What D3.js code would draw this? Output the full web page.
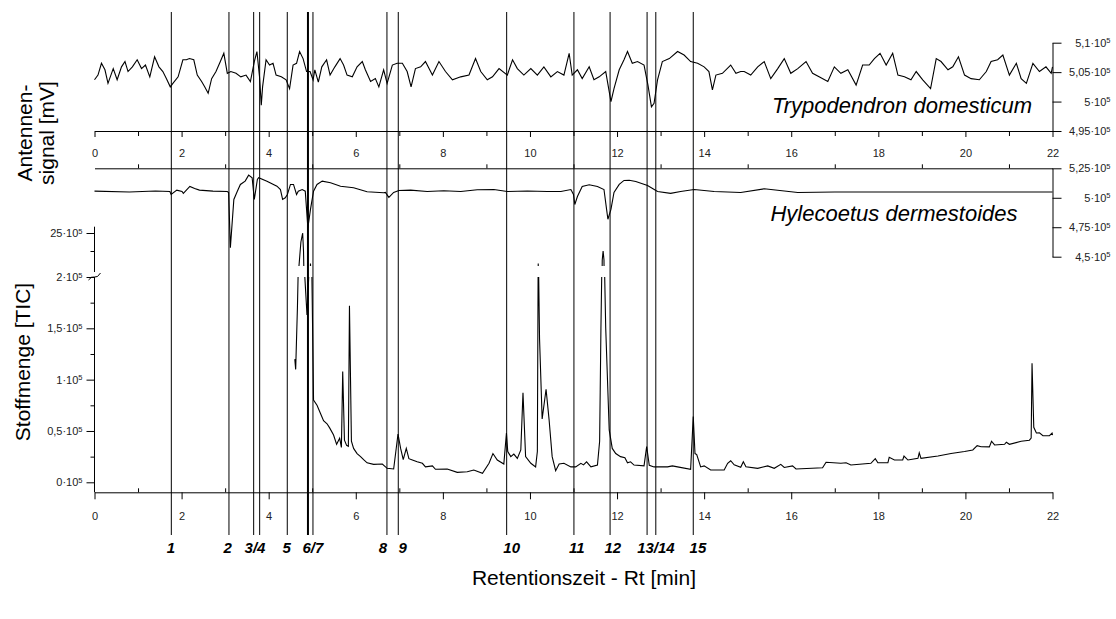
<!DOCTYPE html>
<html>
<head>
<meta charset="utf-8">
<script src="https://cdn.jsdelivr.net/npm/d3@7"></script>
<style>
  body { margin: 0; background: #fff; }
  text { font-family: "Liberation Sans", Arial, sans-serif; }
</style>
</head>
<body>
<div id="chart"></div>
<script>
// x axis (minutes)
const xMajor = [0, 2, 4, 6, 8, 10, 12, 14, 16, 18, 20, 22];
const xMinor = [1, 3, 5, 7, 9, 11, 13, 15, 17, 19, 21];

// y ticks, values in 10^5 and their printed mantissas
const eag1Ticks = [4.95, 5.0, 5.05, 5.1];
const eag1Labels = ["4,95", "5", "5,05", "5,1"];
const eag2Ticks = [4.5, 4.75, 5.0, 5.25];
const eag2Labels = ["4,5", "4,75", "5", "5,25"];
const ticLowTicks = [0, 0.5, 1, 1.5, 2];
const ticLowLabels = ["0", "0,5", "1", "1,5", "2"];
const ticLowMinor = [0.25, 0.75, 1.25, 1.75];
const ticHighTicks = [2.5];
const ticHighLabels = ["25"];
const ticHighMinor = [2.4];

// EAD markers (retention time, min)
const markerTimes = [1.764, 3.088, 3.655, 3.793, 4.427, 4.902, 5.017, 6.716, 6.976, 9.465, 11.01, 11.84, 12.69, 12.89, 13.75];
const markerNames = ["1", "2", "3", "4", "5", "6", "7", "8", "9", "10", "11", "12", "13", "14", "15"];
const markerLabels = ["1", "2", "3/4", "5", "6/7", "8", "9", "10", "11", "12", "13/14", "15"];
const markerLabelTimes = [1.754, 3.059, 3.687, 4.414, 5.017, 6.624, 7.077, 9.58, 11.077, 11.904, 12.893, 13.857];

// antenna signal, Trypodendron domesticum [time, value*10^5]
const eagTrypodendron = [
  [0.00,5.037],[0.08,5.045],[0.16,5.065],[0.24,5.054],[0.31,5.031],[0.43,5.056],[0.52,5.037],[0.62,5.059],
  [0.70,5.068],[0.77,5.051],[0.87,5.059],[0.98,5.071],[1.08,5.056],[1.17,5.062],[1.27,5.042],[1.38,5.076],
  [1.48,5.059],[1.57,5.051],[1.65,5.039],[1.74,5.025],[1.80,5.031],[1.92,5.042],[2.03,5.071],[2.11,5.071],
  [2.18,5.073],[2.28,5.071],[2.36,5.045],[2.46,5.034],[2.53,5.025],[2.61,5.014],[2.69,5.039],[2.79,5.051],
  [2.89,5.068],[2.97,5.082],[3.05,5.048],[3.13,5.051],[3.25,5.048],[3.36,5.042],[3.48,5.045],[3.58,5.034],
  [3.67,5.068],[3.73,5.085],[3.79,5.042],[3.83,4.994],[3.86,5.025],[3.94,5.071],[4.02,5.062],[4.10,5.065],
  [4.17,5.045],[4.29,5.042],[4.40,5.037],[4.48,5.022],[4.56,5.062],[4.64,5.065],[4.71,5.085],[4.79,5.073],
  [4.87,5.051],[4.95,5.051],[5.02,5.037],[5.06,5.054],[5.14,5.033],[5.22,5.059],[5.33,5.071],[5.41,5.045],
  [5.52,5.059],[5.64,5.073],[5.72,5.062],[5.80,5.045],[5.92,5.042],[6.03,5.059],[6.15,5.068],[6.22,5.054],
  [6.34,5.034],[6.45,5.039],[6.53,5.025],[6.64,5.054],[6.72,5.031],[6.84,5.062],[6.95,5.065],[7.07,5.065],
  [7.18,5.051],[7.27,5.025],[7.37,5.056],[7.49,5.059],[7.60,5.068],[7.76,5.045],[7.91,5.068],[8.06,5.051],
  [8.22,5.037],[8.41,5.042],[8.60,5.045],[8.75,5.073],[8.87,5.051],[9.02,5.037],[9.14,5.042],[9.29,5.056],
  [9.48,5.045],[9.60,5.071],[9.71,5.056],[9.86,5.045],[10.02,5.056],[10.17,5.045],[10.32,5.059],[10.48,5.042],
  [10.63,5.051],[10.78,5.045],[10.90,5.082],[10.97,5.045],[11.09,5.054],[11.20,5.039],[11.36,5.059],[11.47,5.037],
  [11.59,5.042],[11.74,5.051],[11.82,5.017],[11.86,5.000],[11.93,5.022],[12.05,5.054],[12.16,5.071],[12.24,5.085],
  [12.35,5.065],[12.47,5.068],[12.62,5.062],[12.71,5.028],[12.79,4.991],[12.85,4.997],[12.93,5.037],[13.04,5.068],
  [13.20,5.073],[13.39,5.085],[13.54,5.079],[13.69,5.068],[13.85,5.065],[14.00,5.059],[14.11,5.051],[14.19,5.020],
  [14.27,5.045],[14.42,5.048],[14.61,5.062],[14.73,5.048],[14.84,5.051],[14.92,5.051],[15.07,5.045],[15.23,5.059],
  [15.38,5.068],[15.53,5.039],[15.69,5.056],[15.84,5.073],[15.99,5.048],[16.15,5.056],[16.34,5.068],[16.49,5.048],
  [16.64,5.042],[16.84,5.034],[16.99,5.059],[17.14,5.048],[17.30,5.054],[17.49,5.028],[17.64,5.062],[17.79,5.062],
  [17.91,5.073],[18.04,5.082],[18.18,5.062],[18.33,5.082],[18.45,5.045],[18.60,5.042],[18.75,5.037],[18.87,5.051],
  [19.02,5.037],[19.20,5.022],[19.33,5.073],[19.44,5.068],[19.60,5.054],[19.71,5.059],[19.84,5.076],[19.98,5.045],
  [20.13,5.039],[20.32,5.037],[20.48,5.051],[20.59,5.068],[20.74,5.071],[20.86,5.079],[21.01,5.045],[21.17,5.065],
  [21.28,5.039],[21.40,5.031],[21.55,5.065],[21.70,5.051],[21.85,5.059],[21.97,5.048],[22.00,5.059]
];

// antenna signal, Hylecoetus dermestoides
const eagHylecoetus = [
  [0.00,5.056],[0.80,5.049],[1.40,5.058],[1.73,5.053],[1.76,5.028],[1.89,5.065],[2.01,5.053],[2.04,5.037],
  [2.19,5.096],[2.30,5.079],[2.41,5.065],[2.72,5.056],[3.05,5.053],[3.08,5.045],[3.12,4.576],[3.20,4.986],
  [3.28,5.056],[3.35,5.113],[3.46,5.141],[3.54,5.192],[3.62,5.170],[3.67,4.986],[3.74,5.155],[3.77,5.170],
  [3.96,5.141],[4.19,5.098],[4.27,5.070],[4.32,4.986],[4.38,5.000],[4.43,5.028],[4.50,5.113],[4.57,5.113],
  [4.64,5.028],[4.68,5.056],[4.77,5.070],[4.84,5.056],[4.90,4.745],[4.96,4.901],[5.03,5.056],[5.11,5.113],
  [5.23,5.141],[5.42,5.127],[5.65,5.098],[5.95,5.085],[6.26,5.051],[6.64,5.042],[6.68,5.045],[6.76,5.003],
  [6.87,5.045],[6.99,5.062],[7.26,5.065],[7.64,5.053],[8.02,5.059],[8.41,5.053],[8.79,5.068],[9.17,5.070],
  [9.48,5.053],[9.94,5.058],[10.40,5.053],[10.71,5.053],[10.94,5.070],[11.00,5.028],[11.03,4.943],[11.09,5.011],
  [11.20,5.096],[11.36,5.110],[11.55,5.096],[11.70,5.070],[11.76,4.901],[11.79,4.818],[11.86,4.901],[11.93,5.045],
  [12.05,5.113],[12.16,5.147],[12.28,5.149],[12.43,5.138],[12.70,5.104],[12.93,5.053],[13.23,5.037],[13.46,5.053],
  [13.77,5.070],[14.23,5.053],[14.84,5.045],[15.38,5.076],[16.15,5.045],[17.00,5.049],[18.00,5.049],[19.00,5.049],
  [20.00,5.049],[21.00,5.049],[22.00,5.049]
];

// total ion current
const tic = [
  [4.60,1.20],[4.62,1.10],[4.66,1.70],[4.69,2.30],[4.74,2.45],[4.78,2.50],[4.80,2.40],[4.83,2.00],[4.88,1.63],
  [4.93,2.10],[4.96,2.33],[4.99,2.10],[5.03,0.80],[5.11,0.75],[5.19,0.67],[5.26,0.60],[5.34,0.57],[5.40,0.53],
  [5.49,0.46],[5.56,0.37],[5.63,0.43],[5.67,0.34],[5.70,1.08],[5.74,0.41],[5.79,0.36],[5.83,0.35],[5.855,1.72],
  [5.90,0.40],[5.95,0.33],[6.03,0.28],[6.11,0.25],[6.18,0.22],[6.26,0.19],[6.41,0.175],[6.61,0.178],[6.72,0.136],
  [6.87,0.13],[6.97,0.47],[7.03,0.33],[7.09,0.22],[7.16,0.33],[7.22,0.23],[7.30,0.217],[7.41,0.20],[7.53,0.185],
  [7.60,0.15],[7.76,0.16],[7.83,0.127],[8.10,0.13],[8.33,0.097],[8.56,0.103],[8.71,0.12],[8.91,0.088],[9.06,0.185],
  [9.15,0.28],[9.25,0.217],[9.40,0.178],[9.46,0.48],[9.49,0.30],[9.56,0.25],[9.63,0.275],[9.71,0.233],[9.79,0.315],
  [9.84,0.873],[9.90,0.25],[10.02,0.185],[10.13,0.15],[10.17,0.30],[10.19,2.33],[10.22,1.40],[10.28,0.617],
  [10.37,0.906],[10.44,0.607],[10.51,0.25],[10.59,0.113],[10.67,0.178],[10.78,0.185],[10.94,0.15],[11.05,0.15],
  [11.17,0.185],[11.23,0.17],[11.30,0.20],[11.40,0.15],[11.55,0.168],[11.60,0.40],[11.63,1.50],[11.66,2.35],
  [11.68,2.40],[11.70,2.35],[11.74,1.50],[11.82,0.51],[11.89,0.33],[11.97,0.28],[12.08,0.25],[12.18,0.24],
  [12.24,0.19],[12.31,0.20],[12.39,0.168],[12.62,0.16],[12.68,0.347],[12.74,0.165],[12.85,0.15],[13.16,0.15],
  [13.27,0.16],[13.39,0.15],[13.69,0.127],[13.75,0.64],[13.79,0.28],[13.83,0.27],[13.92,0.15],[14.00,0.16],
  [14.15,0.12],[14.46,0.12],[14.54,0.185],[14.61,0.21],[14.69,0.17],[14.84,0.146],[14.90,0.20],[14.96,0.152],
  [15.23,0.136],[15.46,0.16],[15.61,0.136],[15.76,0.175],[15.84,0.145],[16.03,0.16],[16.11,0.13],[16.72,0.142],
  [16.80,0.195],[17.14,0.185],[17.26,0.19],[17.37,0.168],[17.83,0.185],[17.93,0.23],[17.99,0.19],[18.22,0.19],
  [18.25,0.243],[18.37,0.217],[18.56,0.217],[18.59,0.256],[18.68,0.217],[18.91,0.233],[18.94,0.288],[18.98,0.233],
  [19.37,0.256],[19.67,0.28],[19.98,0.30],[20.17,0.315],[20.27,0.357],[20.36,0.347],[20.55,0.345],[20.60,0.40],
  [20.67,0.364],[20.90,0.37],[20.94,0.39],[21.01,0.37],[21.28,0.40],[21.47,0.41],[21.51,0.43],[21.53,1.16],
  [21.57,0.536],[21.63,0.48],[21.70,0.483],[21.78,0.454],[21.93,0.455],[21.99,0.48],[22.00,0.46]
];

const width = 1116, height = 619;

const svg = d3.select("#chart").append("svg")
  .attr("width", width)
  .attr("height", height);

const defs = svg.append("defs");
defs.append("clipPath").attr("id", "clipLow").append("rect")
  .attr("x", 80).attr("y", 277).attr("width", 990).attr("height", 220);
defs.append("clipPath").attr("id", "clipHigh").append("rect")
  .attr("x", 80).attr("y", 226).attr("width", 990).attr("height", 40);

// scales
const x = d3.scaleLinear().domain([0, 22]).range([94.5, 1052.5]);
const yEag1 = d3.scaleLinear().domain([4.95, 5.1]).range([131, 42.7]);
const yEag2 = d3.scaleLinear().domain([4.5, 5.25]).range([256.7, 168.3]);
const yTicLow = d3.scaleLinear().domain([0, 2]).range([482.3, 277]);
const yTicHigh = d3.scaleLinear().domain([2.3, 2.5]).range([269, 233]);

function styleAxis(g) {
  g.attr("font-family", null).attr("font-size", null);
  g.selectAll("path, line").attr("stroke", "#000");
  g.selectAll("text").attr("fill", "#222").style("font-size", "11px");
}

function supLabels(g, labels) {
  g.selectAll(".tick text").each(function(d, i) {
    const t = d3.select(this).text(labels[i] + "·10");
    t.append("tspan").attr("dy", "-0.45em").style("font-size", "7.5px").text("5");
  });
}

// --- x axes ---
const xTop = svg.append("g").attr("transform", "translate(0,131)")
  .call(d3.axisBottom(x).tickValues(xMajor).tickSize(6).tickSizeOuter(0).tickFormat(d3.format("d")));
xTop.selectAll("text").attr("y", 22).attr("dy", "0.35em");
styleAxis(xTop);
const xTopMinor = svg.append("g").attr("transform", "translate(0,131)")
  .call(d3.axisBottom(x).tickValues(xMinor).tickSize(5).tickFormat(""));
xTopMinor.select(".domain").remove();
styleAxis(xTopMinor);

const xMid = svg.append("g").attr("transform", "translate(0,168.3)")
  .call(d3.axisTop(x).tickValues(xMinor).tickSize(4).tickSizeOuter(0).tickFormat(""));
styleAxis(xMid);

const xBottom = svg.append("g").attr("transform", "translate(0,492.3)")
  .call(d3.axisBottom(x).tickValues(xMajor).tickSize(7).tickSizeOuter(0).tickFormat(d3.format("d")));
xBottom.selectAll("text").attr("y", 24).attr("dy", "0.35em");
styleAxis(xBottom);
const xBottomMinor = svg.append("g").attr("transform", "translate(0,492.3)")
  .call(d3.axisTop(x).tickValues(xMinor).tickSize(4).tickFormat(""));
xBottomMinor.select(".domain").remove();
styleAxis(xBottomMinor);

// --- right axes (antenna signals) ---
const yAxis1 = svg.append("g").attr("transform", "translate(1052.5,0)")
  .call(d3.axisRight(yEag1).tickValues(eag1Ticks).tickSize(9).tickSizeOuter(0));
styleAxis(yAxis1);
supLabels(yAxis1, eag1Labels);
yAxis1.selectAll(".tick text").attr("text-anchor", "end").attr("x", 58);

const yAxis2 = svg.append("g").attr("transform", "translate(1052.5,0)")
  .call(d3.axisRight(yEag2).tickValues(eag2Ticks).tickSize(9).tickSizeOuter(0));
styleAxis(yAxis2);
supLabels(yAxis2, eag2Labels);
yAxis2.selectAll(".tick text").attr("text-anchor", "end").attr("x", 58);

// --- left broken axis (TIC) ---
const yLow = svg.append("g").attr("transform", "translate(94.5,0)")
  .call(d3.axisLeft(yTicLow).tickValues(ticLowTicks).tickSize(8).tickPadding(4));
yLow.select(".domain").remove();
styleAxis(yLow);
supLabels(yLow, ticLowLabels);
const yLowMinor = svg.append("g").attr("transform", "translate(94.5,0)")
  .call(d3.axisLeft(yTicLow).tickValues(ticLowMinor).tickSize(4).tickFormat(""));
yLowMinor.select(".domain").remove();
styleAxis(yLowMinor);

const yHigh = svg.append("g").attr("transform", "translate(94.5,0)")
  .call(d3.axisLeft(yTicHigh).tickValues(ticHighTicks).tickSize(8).tickPadding(4));
yHigh.select(".domain").remove();
styleAxis(yHigh);
supLabels(yHigh, ticHighLabels);
const yHighMinor = svg.append("g").attr("transform", "translate(94.5,0)")
  .call(d3.axisLeft(yTicHigh).tickValues(ticHighMinor).tickSize(4).tickFormat(""));
yHighMinor.select(".domain").remove();
styleAxis(yHighMinor);

svg.append("line")
  .attr("x1", x(0)).attr("x2", x(0))
  .attr("y1", yTicLow(2)).attr("y2", 492.3)
  .attr("stroke", "#000");
svg.append("line")
  .attr("x1", x(0)).attr("x2", x(0))
  .attr("y1", 226.7).attr("y2", 272)
  .attr("stroke", "#000");
// break mark
svg.append("path")
  .attr("d", "M88.5,280 Q91.5,276 94.5,277 T100.5,273")
  .attr("fill", "none")
  .attr("stroke", "#000");

// --- traces ---
const line1 = d3.line().x(d => x(d[0])).y(d => yEag1(d[1]));
const line2 = d3.line().x(d => x(d[0])).y(d => yEag2(d[1]));
const lineLow = d3.line().x(d => x(d[0])).y(d => yTicLow(d[1]));
const lineHigh = d3.line().x(d => x(d[0])).y(d => yTicHigh(d[1]));

svg.append("path").datum(eagTrypodendron)
  .attr("d", line1).attr("fill", "none").attr("stroke", "#000").attr("stroke-width", 1.1);
svg.append("path").datum(eagHylecoetus)
  .attr("d", line2).attr("fill", "none").attr("stroke", "#000").attr("stroke-width", 1.1);
svg.append("path").datum(tic)
  .attr("clip-path", "url(#clipLow)")
  .attr("d", lineLow).attr("fill", "none").attr("stroke", "#000").attr("stroke-width", 1.1);
svg.append("path").datum(tic)
  .attr("clip-path", "url(#clipHigh)")
  .attr("d", lineHigh).attr("fill", "none").attr("stroke", "#000").attr("stroke-width", 1.1);

// --- EAD marker lines ---
svg.selectAll(".marker").data(markerTimes)
  .enter().append("line")
  .attr("class", "marker")
  .attr("x1", d => x(d)).attr("x2", d => x(d))
  .attr("y1", 12).attr("y2", 535)
  .attr("stroke", "#000")
  .attr("stroke-width", (d, i) => markerNames[i] === "6" ? 2 : 1);

svg.selectAll(".marker-label").data(markerLabels)
  .enter().append("text")
  .attr("class", "marker-label")
  .attr("x", (d, i) => x(markerLabelTimes[i]))
  .attr("y", 553)
  .attr("text-anchor", "middle")
  .style("font-size", "15px")
  .style("font-weight", "bold")
  .style("font-style", "italic")
  .text(d => d);

// --- titles ---
svg.append("text")
  .attr("x", 902).attr("y", 113)
  .attr("text-anchor", "middle")
  .style("font-size", "22px").style("font-style", "italic")
  .text("Trypodendron domesticum");
svg.append("text")
  .attr("x", 894).attr("y", 221)
  .attr("text-anchor", "middle")
  .style("font-size", "22px").style("font-style", "italic")
  .text("Hylecoetus dermestoides");

svg.append("text")
  .attr("transform", "translate(25,133) rotate(-90)")
  .attr("text-anchor", "middle").attr("dy", "0.35em")
  .style("font-size", "21px")
  .text("Antennen-");
svg.append("text")
  .attr("transform", "translate(47,133) rotate(-90)")
  .attr("text-anchor", "middle").attr("dy", "0.35em")
  .style("font-size", "21px")
  .text("signal [mV]");
svg.append("text")
  .attr("transform", "translate(23,362) rotate(-90)")
  .attr("text-anchor", "middle").attr("dy", "0.35em")
  .style("font-size", "21px")
  .text("Stoffmenge [TIC]");

svg.append("text")
  .attr("x", 584).attr("y", 585)
  .attr("text-anchor", "middle")
  .style("font-size", "21px")
  .text("Retentionszeit - Rt [min]");
</script>
</body>
</html>
